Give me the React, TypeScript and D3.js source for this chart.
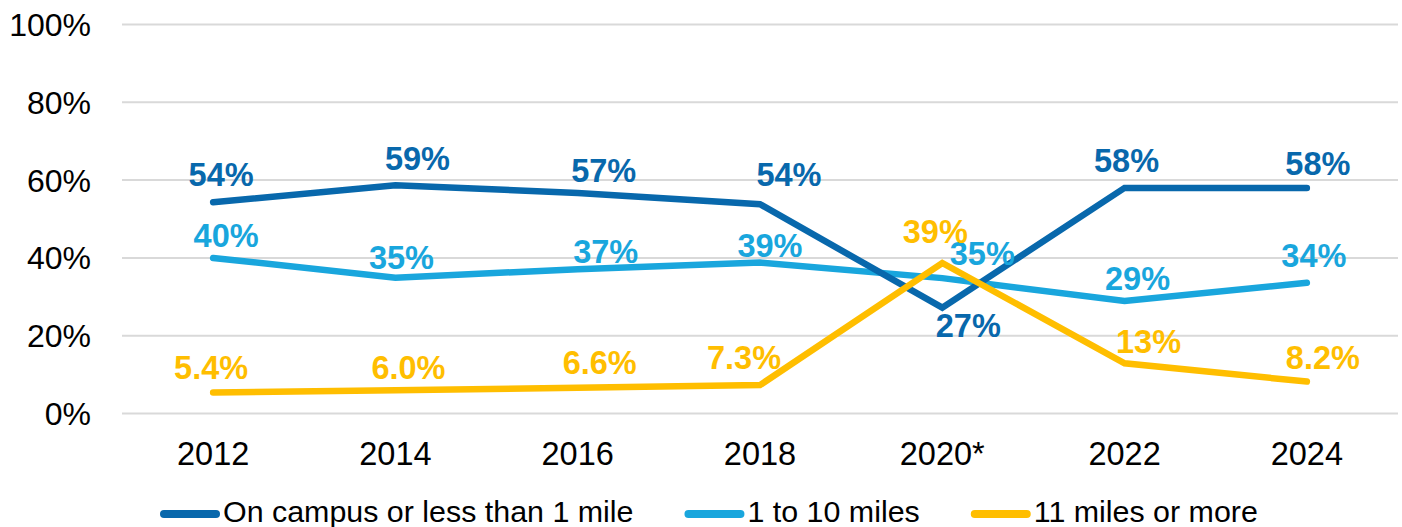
import * as d3 from 'd3';
import { useEffect, useRef } from 'react';

const years = ['2012', '2014', '2016', '2018', '2020*', '2022', '2024'];
const campus = [54.3, 58.7, 56.7, 53.8, 27.2, 58.0, 58.0];
const campusLabels = ['54%', '59%', '57%', '54%', '27%', '58%', '58%'];
const near = [40.0, 34.9, 37.1, 38.8, 34.8, 28.9, 33.6];
const nearLabels = ['40%', '35%', '37%', '39%', '35%', '29%', '34%'];
const far = [5.4, 6.0, 6.6, 7.3, 38.7, 12.9, 8.2];
const farLabels = ['5.4%', '6.0%', '6.6%', '7.3%', '39%', '13%', '8.2%'];
const yTicks = [0, 20, 40, 60, 80, 100];
const seriesNames = ['On campus or less than 1 mile', '1 to 10 miles', '11 miles or more'];

// label nudges (dx, dy from the point), as placed in the original
const campusNudge = [[8, -16], [22, -15], [26, -11], [29, -18], [26, 29], [2, -16], [11, -13]];
const nearNudge = [[13, -11], [6, -9], [28, -6], [10, -6], [40, -13], [13, -11], [7, -16]];
const farNudge = [[-2, -13], [13, -11], [22, -14], [-16, -16], [-7, -20], [24, -10], [16, -13]];

const colors = ['#0868AC', '#19A6DD', '#FFBE00'];

const Chart = () => {
  const svgRef = useRef(null);
  const width = 1402, height = 527;
  const margin = { top: 24.5, right: 4, bottom: 113.5, left: 122 };

  useEffect(() => {
    const svg = d3.select(svgRef.current);
    svg.selectAll('*').remove();
    const font = '"Liberation Sans", Arial, sans-serif';

    const x = d3.scaleBand().domain(years).range([margin.left, width - margin.right]);
    const y = d3.scaleLinear().domain([0, 100]).range([height - margin.bottom, margin.top]);
    const cx = (d) => x(d) + x.bandwidth() / 2;

    // grid
    svg.append('g').selectAll('line').data(yTicks).join('line')
      .attr('x1', margin.left).attr('x2', width - margin.right)
      .attr('y1', d => y(d)).attr('y2', d => y(d))
      .attr('stroke', '#D9D9D9').attr('stroke-width', 2);

    svg.append('g').selectAll('text').data(yTicks).join('text')
      .attr('x', 91).attr('y', d => y(d) + 11.5)
      .attr('text-anchor', 'end').attr('font-family', font).attr('font-size', 32)
      .attr('fill', '#000').text(d => d + '%');

    svg.append('g').selectAll('text').data(years).join('text')
      .attr('x', d => cx(d)).attr('y', 465)
      .attr('text-anchor', 'middle').attr('font-family', font).attr('font-size', 32.5)
      .attr('fill', '#000').text(d => d);

    const series = [
      { vals: campus, labels: campusLabels, nudge: campusNudge },
      { vals: near, labels: nearLabels, nudge: nearNudge },
      { vals: far, labels: farLabels, nudge: farNudge },
    ];

    const line = d3.line().x((d, i) => cx(years[i])).y(d => y(d));
    // light blue underneath, then campus, yellow on top
    [1, 0, 2].forEach(si => {
      svg.append('path').datum(series[si].vals)
        .attr('d', line).attr('fill', 'none')
        .attr('stroke', colors[si]).attr('stroke-width', 6.5)
        .attr('stroke-linecap', 'round').attr('stroke-linejoin', 'miter');
    });

    series.forEach((s, si) => {
      svg.append('g').selectAll('text').data(s.vals).join('text')
        .attr('x', (d, i) => cx(years[i]) + s.nudge[i][0])
        .attr('y', (d, i) => y(d) + s.nudge[i][1])
        .attr('text-anchor', 'middle').attr('font-family', font)
        .attr('font-size', 32.5).attr('font-weight', 'bold')
        .attr('fill', colors[si]).text((d, i) => s.labels[i]);
    });

    // legend
    const lg = svg.append('g');
    let lx = 160;
    seriesNames.forEach((name, i) => {
      lg.append('line').attr('x1', lx + 4).attr('x2', lx + 56)
        .attr('y1', 514).attr('y2', 514)
        .attr('stroke', colors[i]).attr('stroke-width', 8).attr('stroke-linecap', 'round');
      const t = lg.append('text').attr('x', lx + 63).attr('y', 522)
        .attr('font-family', font).attr('font-size', 30.4).attr('fill', '#000').text(name);
      lx = lx + 63 + t.node().getComputedTextLength() + 51;
    });
  }, []);

  return <svg ref={svgRef} width={width} height={height}
    style={{ position: 'absolute', left: 0, top: 0, background: '#fff' }}></svg>;
};

export default function App() {
  return <Chart />;
}
